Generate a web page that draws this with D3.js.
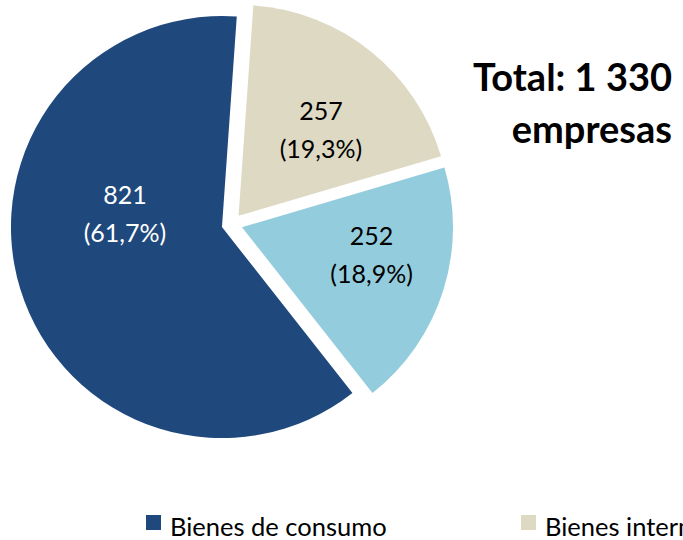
<!DOCTYPE html>
<html>
<head>
<meta charset="utf-8">
<script src="https://cdn.jsdelivr.net/npm/d3@7"></script>
<style>
  body { margin: 0; background: #fff; }
  svg { display: block; font-family: Lato, "Open Sans", sans-serif; }
</style>
</head>
<body>
<div id="chart-area"></div>
<script>
// data
var categories = ["Bienes de consumo", "Bienes intermedios", "Bienes de capital"];
var empresas = [821, 257, 252];
var percents = ["61,7%", "19,3%", "18,9%"];
var totalLines = ["Total: 1 330", "empresas"];

var colors = ["#1F497D", "#DDD9C3", "#93CDDD"];
var labelColors = ["#ffffff", "#000000", "#000000"];
// small nudges for the label positions (Excel does not put them on the centroid)
var labelNudge = [[24, -50], [3, 13], [9, -11]];

var width = 683, height = 540;
var cx = 232, cy = 224, radius = 211, explode = 10.5;

var svg = d3.select("#chart-area")
    .append("svg")
        .attr("width", width)
        .attr("height", height);

var pie = d3.pie()
    .sort(null)
    .startAngle(141.8 * Math.PI / 180)
    .endAngle(141.8 * Math.PI / 180 + 2 * Math.PI);

var arc = d3.arc().innerRadius(0).outerRadius(radius);
var labelArc = d3.arc().innerRadius(radius * 0.6).outerRadius(radius * 0.6);

var slices = pie(empresas);

var g = svg.append("g")
    .attr("transform", "translate(" + cx + "," + cy + ")");

var sliceG = g.selectAll("g.slice")
    .data(slices)
    .enter()
    .append("g")
        .attr("class", "slice")
        .attr("transform", function(d) {
            var a = (d.startAngle + d.endAngle) / 2;
            return "translate(" + (Math.sin(a) * explode) + "," + (-Math.cos(a) * explode) + ")";
        });

sliceG.append("path")
    .attr("d", arc)
    .attr("fill", function(d, i) { return colors[i]; });

var labels = sliceG.append("text")
    .attr("text-anchor", "middle")
    .attr("font-size", "25px")
    .attr("fill", function(d, i) { return labelColors[i]; })
    .attr("transform", function(d, i) {
        var c = labelArc.centroid(d);
        return "translate(" + (c[0] + labelNudge[i][0]) + "," + (c[1] + labelNudge[i][1]) + ")";
    });

labels.append("tspan")
    .attr("x", 0)
    .attr("y", -10)
    .text(function(d) { return d.data; });
labels.append("tspan")
    .attr("x", 0)
    .attr("y", 28)
    .text(function(d, i) { return "(" + percents[i] + ")"; });

// total
var total = svg.append("text")
    .attr("text-anchor", "end")
    .attr("font-size", "38px")
    .attr("font-weight", "bold")
    .attr("fill", "#000");
totalLines.forEach(function(t, i) {
    total.append("tspan")
        .attr("x", 672)
        .attr("y", 91 + i * 52)
        .text(t);
});

// legend
var legend = svg.append("g")
    .attr("transform", "translate(146, 515)");

categories.forEach(function(c, i) {
    legend.append("rect")
        .attr("x", i * 375)
        .attr("y", 0)
        .attr("width", 15)
        .attr("height", 15)
        .attr("fill", colors[i]);
    legend.append("text")
        .attr("x", i * 375 + 24)
        .attr("y", 21)
        .attr("font-size", "25.5px")
        .attr("fill", "#000")
        .text(c);
});
</script>
</body>
</html>
